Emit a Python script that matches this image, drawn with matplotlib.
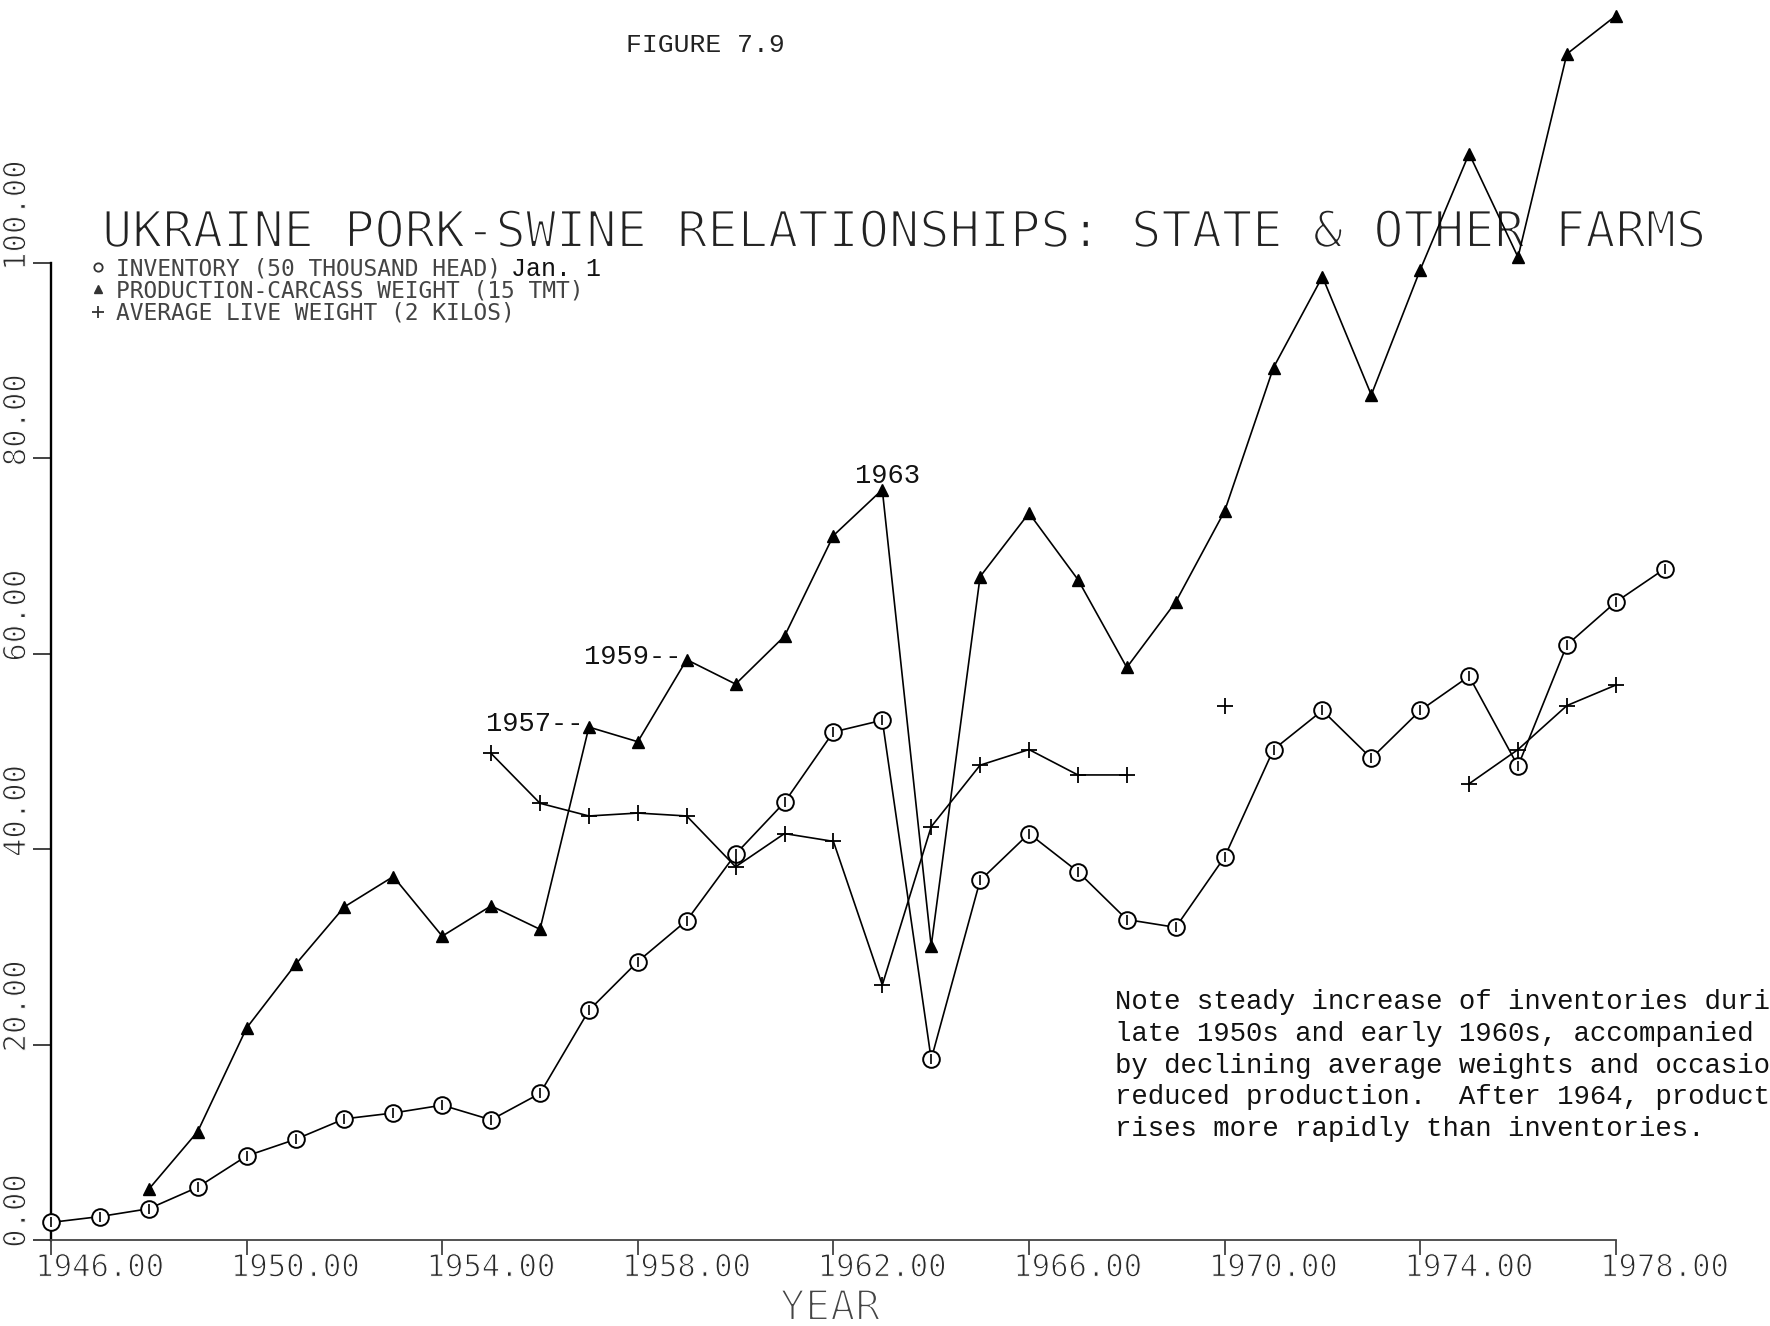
import numpy as np
import matplotlib
matplotlib.use("Agg")
import matplotlib.pyplot as plt
from matplotlib import patheffects as pe
from matplotlib.lines import Line2D

# ---- data -------------------------------------------------------------
inv_years = list(range(1946, 1980))
inventory = [1.8, 2.4, 3.2, 5.4, 8.6, 10.3, 12.4, 13.0, 13.8, 12.3,
             15.0, 23.5, 28.5, 32.7, 39.5, 44.8, 52.0, 53.2, 18.5, 36.8,
             41.6, 37.7, 32.8, 32.0, 39.2, 50.2, 54.2, 49.3, 54.2, 57.7,
             48.5, 60.9, 65.3, 68.7]

prod_years = list(range(1948, 1979))
production = [5.2, 11.1, 21.7, 28.2, 34.1, 37.2, 31.1, 34.2, 31.8, 52.5,
              51.0, 59.4, 56.9, 61.8, 72.1, 76.8, 30.1, 67.9, 74.4, 67.6,
              58.6, 65.3, 74.6, 89.3, 98.6, 86.5, 99.3, 111.2, 100.6, 121.4,
              125.3]

wt_years = list(range(1955, 1979))
nan = np.nan
live_weight = [49.8, 44.7, 43.4, 43.7, 43.4, 38.2, 41.6, 40.8, 26.1, 42.3,
               48.6, 50.2, 47.6, 47.6, nan, 54.7, nan, nan, nan, nan,
               46.7, 50.2, 54.7, 56.8]

x_ticks = [1946, 1950, 1954, 1958, 1962, 1966, 1970, 1974, 1978]
x_tick_labels = ["1946.00", "1950.00", "1954.00", "1958.00", "1962.00",
                 "1966.00", "1970.00", "1974.00", "1978.00"]
y_ticks = [0, 20, 40, 60, 80, 100]
y_tick_labels = ["0.00", "20.00", "40.00", "60.00", "80.00", "100.00"]

series_labels = ["INVENTORY (50 THOUSAND HEAD)",
                 "PRODUCTION-CARCASS WEIGHT (15 TMT)",
                 "AVERAGE LIVE WEIGHT (2 KILOS)"]
callout_years = [1957, 1959]
peak_year = 1963

title = "UKRAINE PORK-SWINE RELATIONSHIPS: STATE & OTHER FARMS"
note = ("Note steady increase of inventories during\n"
        "late 1950s and early 1960s, accompanied\n"
        "by declining average weights and occasionally\n"
        "reduced production.  After 1964, production\n"
        "rises more rapidly than inventories.")

# ---- figure -----------------------------------------------------------
W, H = 1770, 1326
fig = plt.figure(figsize=(W / 100, H / 100), dpi=100)
ax = fig.add_axes([0, 0, 1, 1])

px_year, px_unit = 48.9, 9.77
x0_px, y0_px = 51, 1240
ax.set_xlim(1946 - x0_px / px_year, 1946 + (W - x0_px) / px_year)
ax.set_ylim(-(H - y0_px) / px_unit, y0_px / px_unit)

MONO = "DejaVu Sans Mono"
TYPE = "Liberation Mono"
thin_big = [pe.Stroke(linewidth=1.5, foreground="white")]
thin_mid = [pe.Stroke(linewidth=0.8, foreground="white")]

for s in ("top", "right"):
    ax.spines[s].set_visible(False)
ax.spines["left"].set_position(("data", 1946))
ax.spines["left"].set_bounds(0, 100)
ax.spines["left"].set_linewidth(1.7)
ax.spines["bottom"].set_position(("data", 0))
ax.spines["bottom"].set_bounds(1946, 1978)
ax.spines["bottom"].set_linewidth(1.3)
ax.spines["bottom"].set_color("#444444")

ax.set_xticks(x_ticks)
ax.set_xticklabels([])
ax.set_yticks(y_ticks)
ax.set_yticklabels([])
ax.tick_params(axis="x", direction="out", length=11, width=1.2, color="#333333")
ax.tick_params(axis="y", direction="out", length=13, width=1.2, color="#222222")

for yr, lab in zip(x_ticks, x_tick_labels):
    ax.text(yr - 0.32, -2.85, lab, ha="left", va="center", fontsize=22,
            family=MONO, color="#2a2a2a", path_effects=thin_mid)
for v, lab in zip(y_ticks, y_tick_labels):
    ax.text(1945.30, v - 0.8, lab, rotation=90, ha="center", va="bottom",
            fontsize=22, family=MONO, color="#2a2a2a", path_effects=thin_mid)

ax.text(830 / W, 1 - 1308 / H, "YEAR", transform=fig.transFigure,
        ha="center", va="center", fontsize=30, family=MONO, color="#444444",
        path_effects=thin_big)

# ---- series -----------------------------------------------------------
line_kw = dict(color="black", lw=1.2, zorder=3)
ax.plot(inv_years, inventory, marker="o", ms=12, mfc="white", mec="black",
        mew=1.4, **line_kw)
ax.plot(inv_years, inventory, ls="none", marker="|", ms=7, mew=1.2,
        color="black", zorder=4)
ax.plot(prod_years, production, marker="^", ms=8, mfc="black", mec="black",
        **line_kw)
ax.plot(wt_years, live_weight, marker="+", ms=12, mew=1.3, **line_kw)

# ---- annotations --------------------------------------------------------
for yr in callout_years:
    val = production[prod_years.index(yr)]
    ax.annotate(f"{yr}--", xy=(yr, val), xytext=(-5, 3),
                textcoords="offset pixels", ha="right", va="center",
                fontsize=19.5, family=TYPE, color="#111111")
peak_val = production[prod_years.index(peak_year)]
ax.annotate(f"{peak_year}", xy=(peak_year, peak_val), xytext=(5, 14),
            textcoords="offset pixels", ha="center", va="center",
            fontsize=19.5, family=TYPE, color="#111111")

ax.text(1115 / W, 1 - 989 / H, note, transform=fig.transFigure,
        ha="left", va="top", fontsize=19.7, family=TYPE, color="#111111",
        linespacing=1.29)

# ---- title, legend -------------------------------------------------------
ax.text(102 / W, 1 - 247 / H, title, transform=fig.transFigure,
        ha="left", va="baseline", fontsize=36.2, family=MONO, color="#222222",
        path_effects=thin_big, zorder=1)
fig.text(705 / W, 1 - 45 / H, "FIGURE 7.9", ha="center", va="center",
         fontsize=19, family=TYPE, color="#222222")

handles = [
    Line2D([], [], ls="none", marker="o", ms=6, mfc="none", mec="#333333", mew=1.3),
    Line2D([], [], ls="none", marker="^", ms=6, mfc="#333333", mec="#333333"),
    Line2D([], [], ls="none", marker="+", ms=8, mew=1.3, color="#333333"),
]
leg = ax.legend(handles, series_labels, loc="upper left",
                bbox_to_anchor=(90 / W, 1 - 257 / H),
                bbox_transform=fig.transFigure, frameon=False,
                prop={"family": MONO, "size": 16.5}, labelcolor="#444444",
                handlelength=0.7, handletextpad=0.45, labelspacing=-0.03,
                borderpad=0, borderaxespad=0)

fig.canvas.draw()
r = fig.canvas.get_renderer()
bb = leg.get_texts()[0].get_window_extent(r)
fig.text((bb.x1 + 10) / W, (bb.y0 + bb.y1) / 2 / H, "Jan. 1",
         ha="left", va="center", fontsize=18, family=TYPE, color="#111111")

fig.savefig("out.png", dpi=100, facecolor="white")
